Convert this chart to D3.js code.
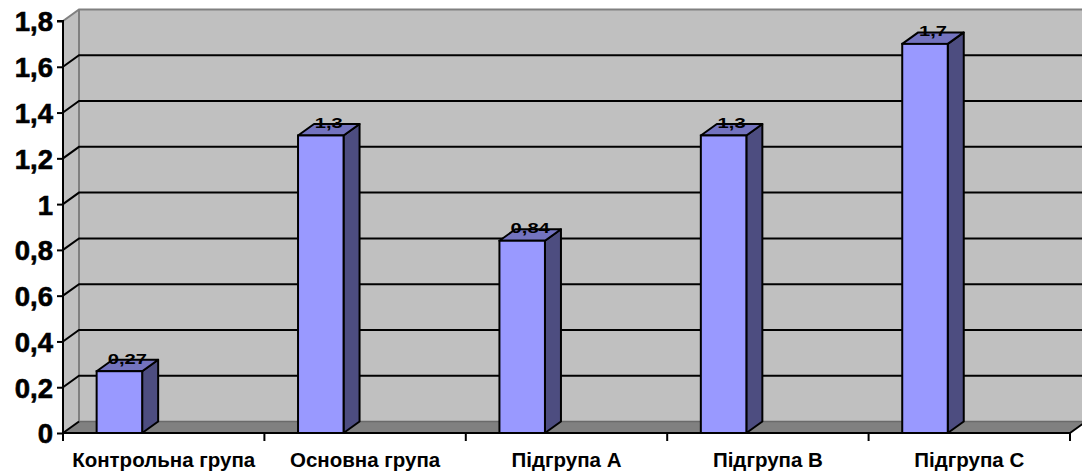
<!DOCTYPE html>
<html><head><meta charset="utf-8">
<script src="https://cdn.jsdelivr.net/npm/d3@7"></script>
<style>
html,body{margin:0;padding:0;background:#fff;}
svg{display:block;font-family:Arial,"Liberation Sans",sans-serif;}
</style></head>
<body>
<svg id="chart" width="1082" height="472"></svg>
<script>
const categories = ["Контрольна група","Основна група","Підгрупа A","Підгрупа B","Підгрупа C"];
const values = [0.27, 1.3, 0.84, 1.3, 1.7];
const valueLabels = ["0,27","1,3","0,84","1,3","1,7"];
const yTicks = [0,0.2,0.4,0.6,0.8,1,1.2,1.4,1.6,1.8];
const yTickLabels = ["0","0,2","0,4","0,6","0,8","1","1,2","1,4","1,6","1,8"];

const W = 1082, H = 472;
const X0 = 63, X1 = 1070, Y0 = 433, YT = 21;
const DX = 16, DY = -11.5;
const svg = d3.select("#chart");

const y = d3.scaleLinear().domain([0,1.8]).range([Y0, YT]);
const x = d3.scaleBand().domain(categories).range([X0, X1]).padding(0);
const bw = x.bandwidth();

// back wall
svg.append("rect").attr("x", X0+DX).attr("y", YT+DY).attr("width", W-(X0+DX)+5).attr("height", Y0-YT)
  .attr("fill","#c0c0c0");
// side wall
svg.append("path").attr("d", `M${X0},${Y0}L${X0},${YT}L${X0+DX},${YT+DY}L${X0+DX},${Y0+DY}Z`).attr("fill","#c0c0c0");
// wall borders (gray)
svg.append("path").attr("d", `M${X0},${YT}L${X0+DX},${YT+DY}L${W+5},${YT+DY}M${X0+DX},${YT+DY}L${X0+DX},${Y0+DY}`)
  .attr("fill","none").attr("stroke","#808080").attr("stroke-width",2);

// gridlines
const grid = yTicks.filter(t => t > 0 && t < 1.8);
svg.append("g").selectAll("path").data(grid).join("path")
  .attr("d", t => `M${X0},${y(t)}L${X0+DX},${y(t)+DY}L${W+5},${y(t)+DY}`)
  .attr("fill","none").attr("stroke","#000").attr("stroke-width",2);

// floor
svg.append("path").attr("d", `M${X0},${Y0}L${X1},${Y0}L${X1+DX},${Y0+DY}L${W+5},${Y0+DY}L${W+5},${Y0+DY}L${X0+DX},${Y0+DY}Z`)
  .attr("fill","#808080");
svg.append("path").attr("d", `M${X0+DX},${Y0+DY}L${W+5},${Y0+DY}`).attr("stroke","#6a6a6a").attr("stroke-width",1.5);
svg.append("path").attr("d", `M${X0},${Y0}L${X0+DX},${Y0+DY}M${X1},${Y0}L${X1+DX},${Y0+DY}`)
  .attr("stroke","#000").attr("stroke-width",2);

// bars
const bars = svg.append("g").selectAll("g").data(categories).join("g");
const bx = c => x(c) + bw*0.167;
const bwid = bw*0.226;
bars.each(function(c,i){
  const g = d3.select(this);
  const x0 = bx(c), x1 = x0 + bwid, yt = y(values[i]);
  g.append("path").attr("d", `M${x1},${Y0}L${x1+DX},${Y0+DY}L${x1+DX},${yt+DY}L${x1},${yt}Z`)
    .attr("fill","#4d4d80").attr("stroke","#000").attr("stroke-width",2).attr("stroke-linejoin","round");
  g.append("path").attr("d", `M${x0},${yt}L${x0+DX},${yt+DY}L${x1+DX},${yt+DY}L${x1},${yt}Z`)
    .attr("fill","#7373bf").attr("stroke","#000").attr("stroke-width",2).attr("stroke-linejoin","round");
  g.append("rect").attr("x",x0).attr("y",yt).attr("width",bwid).attr("height",Y0-yt)
    .attr("fill","#9999ff").attr("stroke","#000").attr("stroke-width",2);
  const lx = x0 + (bwid+DX)/2, ly = yt - 7.5;
  g.append("text").attr("transform", `translate(${lx},${ly}) scale(1.3,1)`)
    .attr("text-anchor","middle").attr("font-weight","bold").attr("font-size",15.5)
    .text(valueLabels[i]);
});

// y axis
const yAxis = d3.axisLeft(y).tickValues(yTicks).tickFormat((d,i)=>yTickLabels[i]).tickSize(6).tickPadding(4);
const ga = svg.append("g").attr("transform",`translate(${X0},0)`).call(yAxis);
ga.select(".domain").attr("stroke","#000").attr("stroke-width",2).attr("d",`M-6,${YT}H0V${Y0}`);
ga.selectAll(".tick line").attr("stroke","#000").attr("stroke-width",2);
ga.selectAll(".tick text").attr("font-size",27.5).attr("font-weight","bold").attr("fill","#000")
  .attr("font-family","Arial,'Liberation Sans',sans-serif").attr("dy","0.36em").attr("x",-10)
  .attr("stroke","#000").attr("stroke-width",0.6);

// x axis
const gx = svg.append("g");
gx.append("line").attr("x1",X0).attr("x2",X1).attr("y1",Y0).attr("y2",Y0).attr("stroke","#000").attr("stroke-width",2);
const tickXs = categories.map(c => x(c)).concat([X1]);
gx.selectAll("line.t").data(tickXs).join("line").attr("class","t")
  .attr("x1",d=>d).attr("x2",d=>d).attr("y1",Y0).attr("y2",Y0+8).attr("stroke","#000").attr("stroke-width",2);
gx.selectAll("text").data(categories).join("text")
  .attr("x", c => x(c)+bw/2).attr("y", 467).attr("text-anchor","middle")
  .attr("font-weight","bold").attr("font-size",20.5).text(c=>c);
</script>
</body></html>
